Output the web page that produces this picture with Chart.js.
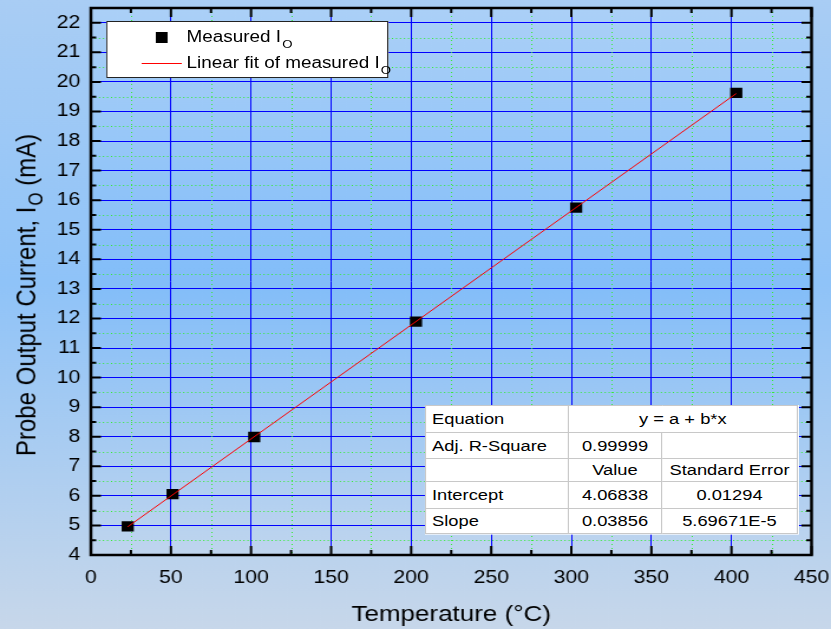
<!DOCTYPE html>
<html>
<head>
<meta charset="utf-8">
<title>Probe Output Current vs Temperature</title>
<script src="https://cdn.jsdelivr.net/npm/chart.js@4.4.1/dist/chart.umd.min.js"></script>
<style>
    body {
        margin: 0;
        overflow: hidden;
        background: #c6d7ec;
        font-family: "Liberation Sans", Arial, sans-serif;
    }

    /* the plot is laid out 704px wide and widened to fill the 831px window */
    #wrap {
        position: relative;
        width: 704px;
        height: 629px;
        transform: scaleX(1.1804);
        transform-origin: 0 0;
    }

    #yTitle {
        position: absolute;
        left: 22px;
        top: 295px;
        transform: translate(-50%, -50%) rotate(-90deg);
        white-space: nowrap;
        font-size: 24px;
        color: #000;
    }

    .sub {
        position: relative;
        top: 6px;
        margin-left: 1px;
        font-size: 0.7em;
    }

    #legend {
        position: absolute;
        left: 90px;
        top: 21px;
        width: 237px;
        height: 55px;
        background: #fff;
        border: 1px solid #222;
        font-size: 16px;
        color: #000;
    }

    #legend .marker {
        position: absolute;
        left: 41px;
        top: 10px;
        width: 10px;
        height: 11px;
        background: #000;
    }

    #legend .fitline {
        position: absolute;
        left: 29px;
        top: 41px;
        width: 34px;
        height: 1px;
        background: #ff0000;
    }

    #legend .label {
        position: absolute;
        left: 67px;
        line-height: 16px;
        white-space: nowrap;
    }

    #stats {
        position: absolute;
        left: 360px;
        top: 405px;
        width: 316px;
        border-collapse: collapse;
        background: #fff;
        border: 1.5px solid #555;
        font-size: 15.5px;
        color: #000;
    }

    #stats td {
        border: 1.5px solid #c8c8c8;
        padding: 0 5px;
        white-space: nowrap;
        text-align: center;
    }

    #stats td.name {
        text-align: left;
    }
</style>
</head>
<body>

<div id="wrap">
    <canvas id="chart"></canvas>
    <div id="yTitle">Probe Output Current, I<span class="sub">O</span> (mA)</div>
    <div id="legend">
        <div class="marker"></div>
        <div class="label" style="top:7px">Measured I<span class="sub">O</span></div>
        <div class="fitline"></div>
        <div class="label" style="top:33px">Linear fit of measured I<span class="sub">O</span></div>
    </div>
    <table id="stats"></table>
</div>

<script>
// ---------- Data ----------

const temps = [23, 51, 102, 203, 303, 403];
const currents = [4.97, 6.06, 7.99, 11.89, 15.75, 19.63];

const xTicks = [0, 50, 100, 150, 200, 250, 300, 350, 400, 450];
const xMinor = [25, 75, 125, 175, 225, 275, 325, 375, 425];
const yTicks = [4, 5, 6, 7, 8, 9, 10, 11, 12, 13, 14, 15, 16, 17, 18, 19, 20, 21, 22];
const yMinor = [4.5, 5.5, 6.5, 7.5, 8.5, 9.5, 10.5, 11.5, 12.5, 13.5, 14.5,
    15.5, 16.5, 17.5, 18.5, 19.5, 20.5, 21.5];

// linear fit y = a + b*x
const interceptA = 4.06838;
const slopeB = 0.03856;
const interceptErr = "0.01294";
const slopeErr = "5.69671E-5";
const adjR2 = "0.99999";

const rowNames = ["Equation", "Adj. R-Square", "", "Intercept", "Slope"];
const rowHeights = [27, 26, 23, 27, 25];

// ---------- Fit table ----------

const rows = [
    [rowNames[0], "y = a + b*x"],
    [rowNames[1], adjR2, ""],
    [rowNames[2], "Value", "Standard Error"],
    [rowNames[3], interceptA.toFixed(5), interceptErr],
    [rowNames[4], slopeB.toFixed(5), slopeErr]
];

const table = document.getElementById("stats");

rows.forEach((cells, r) => {
    const tr = document.createElement("tr");
    tr.style.height = rowHeights[r] + "px";
    cells.forEach((text, c) => {
        const td = document.createElement("td");
        td.textContent = text;
        if (c === 0) {
            td.className = "name";
            td.style.width = "110px";
        } else if (c === 1) {
            td.style.width = "68px";
        }
        if (cells.length === 2 && c === 1) td.colSpan = 2;
        tr.appendChild(td);
    });
    table.appendChild(tr);
});

// ---------- Fit line points ----------

const fitX = [temps[0], temps[temps.length - 1]];
const fitPoints = fitX.map(x => ({ x: x, y: interceptA + slopeB * x }));

// ---------- Chart ----------

Chart.defaults.font.family = "'Liberation Sans', Arial, sans-serif";
Chart.defaults.color = "#000";

const toTicks = list => list.map(v => ({ value: v }));

// background gradients
const backdrop = {
    id: "backdrop",
    beforeDraw(chart) {
        const { ctx, chartArea: a, width, height } = chart;
        ctx.save();

        const outer = ctx.createLinearGradient(0, 0, 0, height);
        outer.addColorStop(0, "#a9cdf4");
        outer.addColorStop(0.45, "#8fc3f8");
        outer.addColorStop(1, "#c7d7ea");
        ctx.fillStyle = outer;
        ctx.fillRect(0, 0, width, height);

        const inner = ctx.createLinearGradient(0, a.top, 0, a.bottom);
        inner.addColorStop(0, "#abd0f7");
        inner.addColorStop(0.5, "#82bdf9");
        inner.addColorStop(1, "#bfd5ee");
        ctx.fillStyle = inner;
        ctx.fillRect(a.left, a.top, a.right - a.left, a.bottom - a.top);

        ctx.restore();
    }
};

// dotted minor grid between the major lines
const minorGrid = {
    id: "minorGrid",
    beforeDatasetsDraw(chart) {
        const { ctx, chartArea: a } = chart;
        const x = chart.scales.x;
        const y = chart.scales.y;

        ctx.save();
        ctx.strokeStyle = "#33ee33";
        ctx.lineWidth = 1;

        ctx.setLineDash([1, 3]);
        xMinor.forEach(v => {
            const px = Math.round(x.getPixelForValue(v)) + 0.5;
            ctx.beginPath();
            ctx.moveTo(px, a.top);
            ctx.lineTo(px, a.bottom);
            ctx.stroke();
        });

        ctx.setLineDash([1, 2.4]);
        yMinor.forEach(v => {
            const py = Math.round(y.getPixelForValue(v)) + 0.5;
            ctx.beginPath();
            ctx.moveTo(a.left, py);
            ctx.lineTo(a.right, py);
            ctx.stroke();
        });

        ctx.restore();
    }
};

// axis frame with inward tick marks on all four sides
const frame = {
    id: "frame",
    afterDatasetsDraw(chart) {
        const { ctx, chartArea: a } = chart;
        const x = chart.scales.x;
        const y = chart.scales.y;

        ctx.save();
        ctx.strokeStyle = "#000";
        ctx.lineWidth = 2;

        const tickX = (list, len) => {
            list.forEach(v => {
                const px = x.getPixelForValue(v);
                ctx.beginPath();
                ctx.moveTo(px, a.bottom);
                ctx.lineTo(px, a.bottom - len);
                ctx.moveTo(px, a.top);
                ctx.lineTo(px, a.top + len);
                ctx.stroke();
            });
        };
        const tickY = (list, len) => {
            list.forEach(v => {
                const py = y.getPixelForValue(v);
                ctx.beginPath();
                ctx.moveTo(a.left, py);
                ctx.lineTo(a.left + len, py);
                ctx.moveTo(a.right, py);
                ctx.lineTo(a.right - len, py);
                ctx.stroke();
            });
        };

        tickX(xTicks, 9);
        tickX(xMinor, 5);
        tickY(yTicks, 8.5);
        tickY(yMinor, 4.5);

        ctx.lineWidth = 2.5;
        ctx.strokeRect(a.left, a.top, a.right - a.left, a.bottom - a.top);
        ctx.restore();
    }
};

new Chart(document.getElementById("chart"), {
    type: "scatter",
    data: {
        datasets: [
            {
                type: "line",
                label: "Linear fit of measured Io",
                data: fitPoints,
                borderColor: "#ff0000",
                borderWidth: 1,
                pointRadius: 0,
                fill: false,
                order: 0
            },
            {
                label: "Measured Io",
                data: temps.map((t, i) => ({ x: t, y: currents[i] })),
                pointStyle: "rect",
                pointRadius: 7.3,
                backgroundColor: "#000",
                borderWidth: 0,
                order: 1
            }
        ]
    },
    options: {
        responsive: true,
        maintainAspectRatio: false,
        animation: false,
        layout: {
            padding: { left: 0, right: 16.5, top: 8, bottom: 0 }
        },
        plugins: {
            legend: { display: false },
            tooltip: { enabled: false }
        },
        scales: {
            x: {
                type: "linear",
                position: "bottom",
                min: 0,
                max: 450,
                afterBuildTicks: s => { s.ticks = toTicks(xTicks); },
                afterFit: s => {
                    s.height = 74;
                    s.paddingLeft = 0;
                    s.paddingRight = 0;
                },
                grid: { color: "#0000ff", lineWidth: 1, drawTicks: false },
                border: { display: false },
                ticks: {
                    padding: 12,
                    maxRotation: 0,
                    autoSkip: false,
                    font: { size: 18 }
                },
                title: {
                    display: true,
                    text: "Temperature (°C)",
                    font: { size: 22 },
                    padding: { top: 0, bottom: 1 }
                }
            },
            y: {
                type: "linear",
                position: "left",
                min: 4,
                max: 22.5,
                afterBuildTicks: s => { s.ticks = toTicks(yTicks); },
                afterFit: s => {
                    s.width = 77;
                    s.paddingTop = 0;
                    s.paddingBottom = 0;
                },
                grid: { color: "#0000ff", lineWidth: 1, drawTicks: false },
                border: { display: false },
                ticks: {
                    padding: 9,
                    autoSkip: false,
                    font: { size: 18 }
                }
            }
        }
    },
    plugins: [backdrop, minorGrid, frame]
});
</script>

</body>
</html>
